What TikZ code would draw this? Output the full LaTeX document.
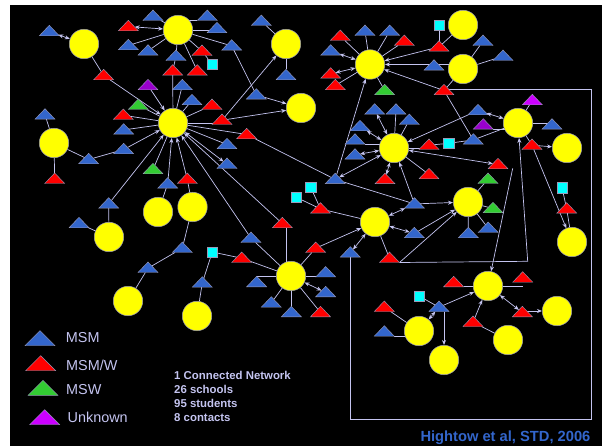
\documentclass[tikz,border=0pt]{standalone}
\usepackage{fontspec}
\setmainfont{Liberation Sans}
\usetikzlibrary{shapes.geometric,arrows.meta}
\definecolor{tb}{HTML}{3366CC}
\definecolor{tr}{HTML}{FF0000}
\definecolor{tg}{HTML}{33CC33}
\definecolor{tp}{HTML}{9900CC}
\definecolor{tv}{HTML}{CC00FF}
\definecolor{lnc}{HTML}{C4C4F0}
\definecolor{edgec}{HTML}{9A9AB8}
\definecolor{dy}{HTML}{FFFF00}
\definecolor{sc}{HTML}{00FFFF}
\pgfdeclarelayer{bg}
\pgfdeclarelayer{edges}
\pgfsetlayers{bg,edges,main}
\tikzset{
  tri/.style={isosceles triangle,isosceles triangle stretches,shape border rotate=90,
    minimum width=20pt,minimum height=10.5pt,inner sep=0pt,outer sep=0pt,anchor=apex,draw=edgec,line width=.4pt},
  bigtri/.style={tri,minimum width=30pt,minimum height=15pt},
  disc/.style={circle,fill=dy,draw=edgec,line width=.5pt,minimum size=29.5pt,inner sep=0pt},
  sq/.style={rectangle,fill=sc,draw=edgec,line width=.4pt,minimum size=10.5pt,inner sep=0pt},
  ln/.style={draw=lnc,line width=.7pt},
  arr/.style={ln,-{Stealth[length=5pt,width=4pt]}},
  bi/.style={ln,{Stealth[length=5pt,width=4pt]}-{Stealth[length=5pt,width=4pt]}},
  lab/.style={text=lnc,font=\fontsize{14.4pt}{16pt}\selectfont,anchor=west,inner sep=0pt},
  info/.style={text=lnc,font=\fontsize{11.4pt}{14pt}\selectfont\bfseries,anchor=west,inner sep=0pt},
  cite/.style={text=tb,font=\fontsize{14.7pt}{16pt}\selectfont\bfseries,anchor=west,inner sep=0pt},
}
\begin{document}
\begin{tikzpicture}[x=1pt,y=-1pt]
\useasboundingbox (0,0) rectangle (602,446);
\begin{pgfonlayer}{bg}
\fill[white] (0,0) rectangle (602,446);
\fill[black] (10,5) rectangle (602,446);
\end{pgfonlayer}
% circles
\foreach \n/\x/\y in {c1/84/44,c2/178/30,c3/286/44,c4/301/108,c5/173/123,c6/54/143,c7/158/212,c8/192.5/207,c9/109/237,c10/128/301,c11/197/316,c12/291/276,c13/375/222,c14/394/148,c15/370/64.5,c16/463/25,c17/463/69,c18/518/123,c19/567/148,c20/468/202,c21/572/242,c22/488/286,c23/557/311,c24/508/340,c25/419/331,c26/444/360}
  \node[disc] (\n) at (\x,\y) {};
% blue triangles
\foreach \n/\x/\y in {a1/49.3/25.3,a2/153/10,a4/207.3/10,a5/217/22.3,a6/128.3/39.3,a7/148/44.7,a8/176/50,a10/231.7/39.7,a14/261.3/15,a15/286/69.3,a16/256.3/88.7,a18/182.3/79.3,a19/192/94.3,a25/123.7/123.7,a26/227/138.3,a27/45/108.7,a28/123.7/143.3,a29/88.7/153.3,a30/227/158,a33/167.7/177.7,a35/108.7/197.7,a36/79/217.3,a38/182.3/242,a39/148/262,a40/202.3/276.7,a42/251/232,a43/256.7/276.3,a44/271.3/296.7,a45/291.3/306.3,u1/325.7/266.5,u2/325.7/286.3,u5/335.2/173.2,u7/414.5/197.7,u8/414.3/227.3,u10/350.3/246.7,v2/365/25,v3/389.7/25,v5/330.7/44.7,v10/483/35,v11/503/50,v12/434/59.7,w2/478/104.3,w4/552/118.7,w5/473.3/133.7,x1/374.7/103.7,x2/396/103.7,x3/409.3/114,x4/360/120.3,x5/355/133.7,x6/355/148.7,y3/468.3/227.3,y4/488.2/222,z4/439/301,z5/384.3/325.7}
  \node[tri,fill=tb] (\n) at (\x,\y) {};
% red triangles
\foreach \n/\x/\y in {a3/128.3/20.3,a9/202/45,a11/172.7/64.7,a12/197.3/64.7,a13/103.7/69.3,a21/212/99,a22/123.3/109,a23/222/114,a24/246.7/128.3,a31/54.7/173,a34/187.3/173,a37/282.3/217.3,a41/241.7/252,u3/320.5/306.3,u4/315.7/242,u6/385/173.2,u9/389.5/252,u11/320.5/202.7,v1/340.3/30,v4/404.3/35,v6/330.7/67.7,v7/335.3/79.3,v9/439/40.7,v13/444/84.3,w6/532/139,w7/429/139,x7/498/158.3,x8/429/168.3,y5/566.7/202.7,z1/453.7/276.3,z2/522.7/271.7,z3/384.3/301,z6/522.3/306.3,z7/473/316}
  \node[tri,fill=tr] (\n) at (\x,\y) {};
% green and purple triangles
\foreach \n/\x/\y in {a20/138.3/99,a32/153/163.3,v8/384.7/84.3,y1/488/173,y2/493/202.3}
  \node[tri,fill=tg] (\n) at (\x,\y) {};
\foreach \n/\x/\y in {a17/148/79.3,w3/483.3/118.7}
  \node[tri,fill=tp] (\n) at (\x,\y) {};
\node[tri,fill=tv] (w1) at (532.3,94.3) {};
% squares
\foreach \n/\x/\y in {s1/212.3/252,s2/310.7/187.3,s3/296.3/197.3,s4/439/25,s5/448.7/143.3,s6/562/187.7,s7/419/296,s8/212.3/64.3}
  \node[sq] (\n) at (\x,\y) {};
% free points of the frames
\coordinate (f0) at (444,89.3);
\coordinate (f1) at (591.7,89.3);
\coordinate (f2) at (591.7,419.3);
\coordinate (f3) at (350.3,419.3);
\coordinate (g1) at (527.7,261.3);
\coordinate (g2) at (512.7,168.3);
\coordinate (h1) at (286.3,227);
\coordinate (h2) at (286.3,276);
\begin{pgfonlayer}{edges}
% frames
\draw[ln] (f0) -- (f1) -- (f2) -- (f3) -- (u10.lower side);
\draw[arr] (u9.right corner) -- (g1) -- (c18);
\draw[arr] (g2) -- (c22);
\draw[arr] (u9.right corner) -- (c20);
% top-left
\draw[bi] (a1) -- (c1);
\draw[ln] (c1) -- (a13);
\draw[arr] (a13) -- (c5);
\draw[ln] (a2) -- (c2);
\draw[bi] (a3) -- (c2);
\draw[ln] (c2 |- a4.left corner) -- (a4.left corner);
\draw[ln] (c2) -- (c2 -| a5);
\foreach \t in {a6,a7,a8,a9,a12} \draw[ln] (c2) -- (\t);
\draw[ln] (c2) -- (a10);
\draw[ln] (a9) -- (s8);
\draw[ln] (a10) -- (a16);
\draw[arr] (a16) -- (c4);
\draw[ln] (a14) -- (c3);
\draw[ln] (c3) -- (a15);
\draw[ln] (a8) -- (a11);
\foreach \t in {a11,a18,a19,a20,a21,a22,a25,a26,a32,a24} \draw[ln] (c5) -- (\t);
\draw[arr] (a17) -- (c5);
\draw[ln] (c5) -- (c5 -| a23);
\draw[arr] (a23) -- (c4);
\draw[arr] (a23) -- (c3);
\draw[ln] (a24) -- (u5);
\draw[bi] (c5) -- (a30);
\foreach \t in {a33,a34,a28,a35,a42,a37} \draw[arr] (\t) -- (c5);
\draw[ln] (a29) -- (a28);
\draw[ln] (c6) -- (a29);
\draw[ln] (c6) -- (a27);
\draw[ln] (c6) -- (a31);
\draw[ln] (a35) -- (c9);
\draw[ln] (a36) -- (c9);
\draw[ln] (a33) -- (c7);
\draw[ln] (a34) -- (c8);
\draw[ln] (a38) -- (c8);
\draw[ln] (a38) -- (a39);
\draw[ln] (a39) -- (c10);
\draw[ln] (a40) -- (c11);
\draw[ln] (a40) -- (s1);
\draw[ln] (s1) -- (a41);
\draw[ln] (a41) -- (c12);
% bottom-centre star
\draw[ln] (a42) -- (c12);
\draw[ln] (h1) -- (h2);
\draw[ln] (c12) -- (c12 -| a43);
\draw[ln] (a44) -- (c12);
\draw[ln] (a45.apex) -- (a45.apex |- c12);
\draw[ln] (c12) -- (c12 -| u1);
\draw[bi] (c12) -- (u2);
\draw[ln] (c12) -- (u3);
\draw[ln] (c12) -- (u4);
\draw[arr] (u4) -- (c13);
\draw[bi] (u10) -- (c13);
\draw[ln] (u11) -- (c13);
\draw[ln] (s2) -- (u11);
\draw[ln] (s3) -- (u11);
\draw[bi] (c13) -- (u7);
\draw[bi] (c13) -- (u8);
\draw[ln] (c13) -- (u9);
\draw[arr] (u7) -- (c20);
\draw[arr] (u8) -- (c20);
\draw[arr] (u7) -- (c14);
\draw[ln] (u7) -- (u5);
\draw[bi] (u5) -- (c14);
\draw[arr] (u5) -- (c15);
% centre star
\foreach \t in {x2,x3,x8} \draw[ln] (c14) -- (\t);
\foreach \t in {x1,x4,x6,u6,x7} \draw[bi] (c14) -- (\t);
\draw[ln] (x5.right corner) -- (x5.right corner -| c14);
\draw[arr] (w2) -- (c14);
\draw[ln] (c14) -- (c14 -| w7);
\draw[ln] (w7) -- (s5);
\draw[ln] (s5) -- (w5);
\draw[ln] (w5) -- (c18);
\draw[ln] (w5) -- (v13);
\draw[arr] (v13) -- (c15);
\draw[ln] (v13) -- (c17);
% upper star
\foreach \t in {v1,v2,v3,v4,v7,v8} \draw[ln] (c15) -- (\t);
\draw[bi] (v5) -- (c15);
\draw[bi] (v6) -- (c15);
\draw[arr] (v9) -- (c15);
\draw[ln] (v9) -- (s4);
\draw[ln] (v9) -- (c16);
\draw[arr] (c17 |- c15) -- (c15);
\draw[ln] (c17) -- (v10);
\draw[ln] (c17) -- (v11);
% right star
\draw[ln] (c18) -- (w1);
\draw[bi] (w2) -- (c18);
\draw[ln] (w3.right corner) -- (w3.right corner -| c18);
\draw[ln] (c18) -- (c18 -| w4);
\draw[ln] (c18) -- (w6);
\draw[arr] (w6) -- (c19);
\draw[arr] (w6) -- (c21);
\draw[ln] (s6) -- (y5);
\draw[ln] (y5) -- (c21);
\draw[ln] (c20) -- (y1);
\draw[ln] (c20) -- (y2);
\draw[ln] (c20) -- (y3);
\draw[ln] (c20) -- (y4);
% lower right
\draw[ln] (z1.right corner) -- (z1.right corner -| c22);
\draw[ln] (c22) -- (c22 -| z2);
\draw[bi] (c22) -- (z6);
\draw[arr] (z7) -- (c22);
\draw[arr] (z4) -- (c22);
\draw[arr,line width=1pt] (z6 |- c23) -- (c23);
\draw[ln] (z7) -- (c24);
\draw[bi] (z4) -- (c25);
\draw[arr,line width=1pt] (c26 |- z4.lower side) -- (c26);
\draw[ln] (s7) -- (z4);
\draw[ln] (z3) -- (c25);
\draw[ln] (z5.right corner) -- (z5.right corner -| c25);
\end{pgfonlayer}
% legend
\node[bigtri,fill=tb] (la) at (40,330.7) {};
\node[bigtri,fill=tr] (lb) at (40.7,355.7) {};
\node[bigtri,fill=tg] (lc) at (43,380.3) {};
\node[bigtri,fill=tv] (ld) at (44.7,409.7) {};
\node[lab] (lta) at (65.7,338) {MSM};
\node[lab] (ltb) at (66,365) {MSM/W};
\node[lab] (ltc) at (66,390) {MSW};
\node[lab] (ltd) at (67.5,417) {Unknown};
\node[info] (i1) at (174,375.3) {1 Connected Network};
\node[info] (i2) at (174,389.3) {26 schools};
\node[info] (i3) at (174,403.3) {95 students};
\node[info] (i4) at (174,417.3) {8 contacts};
\node[cite] (ct) at (420.3,438) {Hightow et al, STD, 2006};
\end{tikzpicture}
\end{document}
